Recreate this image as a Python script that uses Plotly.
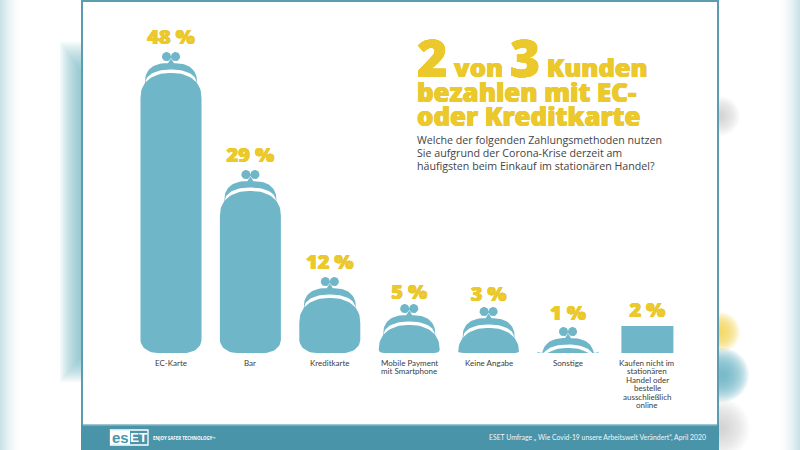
import numpy as np
import plotly.graph_objects as go

categories = ["EC-Karte", "Bar", "Kreditkarte", "Mobile Payment<br>mit Smartphone", "Keine Angabe", "Sonstige",
              "Kaufen nicht im<br>stationären<br>Handel oder<br>bestelle<br>ausschließlich<br>online"]
percent_values = [48, 29, 12, 5, 3, 1, 2]
# Pictorial purse heights (the graphic is not strictly proportional at the low end)
shape_heights = [301, 183, 76, 49, 46, 26, 27]
label_offsets = [13, 13, 13, 10, 11, 12, 14]
shape_kinds = ["purse", "purse", "purse", "purse", "purse", "purse", "box"]

title_big_1 = "2"
title_word_1 = " von "
title_big_2 = "3"
title_word_2 = " Kunden"
title_lines = ["bezahlen mit EC-", "oder Kreditkarte"]
question_lines = ["Welche der folgenden Zahlungsmethoden nutzen",
                  "Sie aufgrund der Corona-Krise derzeit am",
                  "häufigsten beim Einkauf im stationären Handel?"]
source_text = "ESET Umfrage „ Wie Covid-19 unsere Arbeitswelt Verändert“, April 2020"
tagline_text = "ENJOY SAFER TECHNOLOGY™"

BLUE = "#6fb6c9"
YELLOW = "#ebc92c"
TEAL = "#4a94a9"
BORDER = "#5b9cb0"
TEXT = "#3c3c3c"
BASE_PX = 353.0
STEP_PX = 79.4
CX0_PX = 171.0
SANS = "Open Sans"
NARROW = "Lato"
HEAVY = "Open Sans"
THICK = "0.5px 0 0 #ebc92c, -0.5px 0 0 #ebc92c, 0 0.4px 0 #ebc92c, 0 -0.4px 0 #ebc92c"


def px(x):
    return x / 800.0


def py(y):
    return (BASE_PX - y) / BASE_PX


def dome(half, y0, rise, p=2.6, n=40, reverse=False):
    t = np.linspace(np.pi, 0, n)
    c, s = np.cos(t), np.sin(t)
    xs = half * np.sign(c) * np.abs(c) ** (2 / p)
    ys = y0 + rise * np.abs(s) ** (2 / p)
    return (xs[::-1], ys[::-1]) if reverse else (xs, ys)


def purse_paths(cx, h):
    """Closed outlines in axis units for one purse of height h centred on category cx."""
    unit = 1.0 / STEP_PX
    paths = []
    # knobs
    for dx in (-4.5, 4.5):
        t = np.linspace(0, 2 * np.pi, 30)
        paths.append((dx + 4.6 * np.cos(t), h - 4.6 + 4.6 * np.sin(t)))
    # stem between knobs and frame
    paths.append((np.array([-3.5, 0, 3.5, -3.5]), np.array([h - 12, h - 6.5, h - 12, h - 12])))
    # frame: outer dome and inner dome meeting at the tips
    ox, oy = dome(26, h - 31, 20)
    ix, iy = dome(25.5, h - 31, 13.5, p=2.2, reverse=True)
    paths.append((np.r_[ox, ix, ox[0]], np.maximum(np.r_[oy, iy, oy[0]], 0)))
    # body: dome over straight sides and rounded bottom corners
    shoulder = h - 46
    bx, by = dome(30.5, shoulder, 25, p=2.3)
    ry = float(np.clip(shoulder, 1.5, 13))
    rx = 17 if shoulder > 8 else 5
    t = np.linspace(0, np.pi / 2, 14)
    right_x = 30.5 - rx + rx * np.cos(t)
    right_y = ry - ry * np.sin(t)
    left_x = -right_x[::-1]
    left_y = right_y[::-1]
    xs = np.r_[bx, right_x, left_x, bx[0]]
    ys = np.r_[by, right_y, left_y, by[0]]
    paths.append((xs, np.maximum(ys, 0)))
    return [(cx + a * unit, b) for a, b in paths]


fig = go.Figure()
x_positions = list(range(len(categories)))

for i, (h, kind, name) in enumerate(zip(shape_heights, shape_kinds, categories)):
    if kind == "box":
        half = 26.0 / STEP_PX
        outlines = [(np.array([i - half, i + half, i + half, i - half, i - half]), np.array([0, 0, h, h, 0]))]
    else:
        outlines = purse_paths(i, h)
    xs, ys = [], []
    for a, b in outlines:
        xs += list(a) + [None]
        ys += list(b) + [None]
    fig.add_trace(go.Scatter(x=xs, y=ys, mode="lines", fill="toself", fillcolor=BLUE,
                             line=dict(width=0, color=BLUE), hoverinfo="skip",
                             name=name.replace("<br>", " "), showlegend=False))

fig.add_trace(go.Scatter(
    x=x_positions,
    y=[h + o for h, o in zip(shape_heights, label_offsets)],
    mode="text",
    text=[f"{v} %" for v in percent_values],
    textposition="middle center",
    textfont=dict(family=HEAVY, size=20, color=YELLOW, weight=800, shadow=THICK),
    hoverinfo="skip", showlegend=False, cliponaxis=False,
))

shapes = []


def rect(x0, y0, x1, y1, color, opacity=1.0):
    shapes.append(dict(type="rect", xref="paper", yref="paper", x0=px(x0), x1=px(x1), y0=py(y0), y1=py(y1),
                       fillcolor=color, opacity=opacity, line=dict(width=0), layer="below"))


def blob(cx, cy, r, color, steps=20, op=0.07):
    for k in range(steps):
        rr = r * (1 - k / steps)
        shapes.append(dict(type="circle", xref="paper", yref="paper", x0=px(cx - rr), x1=px(cx + rr),
                           y0=py(cy - rr), y1=py(cy + rr), fillcolor=color, opacity=op,
                           line=dict(width=0), layer="below"))


# blurred video-style side bands
for k in range(20):
    a = (1 - k / 20) ** 1.6 * 0.42
    rect(k, 0, k + 1, 450, "#7fb6c6", a)
    rect(799 - k, 0, 800 - k, 450, "#7fb6c6", a)
# soft glow to the left of the card
for k in range(14):
    inset = k * 1.6
    rect(60 + inset, 42 + inset * 1.4, 82, 382 - inset * 1.2, "#6fb6c9", 0.085)
blob(720, 332, 20, "#f1d75a", op=0.1)
blob(722, 375, 27, "#6fb6c9", op=0.11)
blob(720, 116, 20, "#bdbdbd", op=0.05)
blob(720, 428, 30, "#bdbdbd", op=0.05)

# card and footer
rect(81, 0, 719, 450, BORDER)
rect(83, 2, 717, 425, "#ffffff")
rect(81, 425, 719, 450, TEAL)
rect(83, 424, 717, 425.5, "#9cc6d2")

# logo
shapes.append(dict(type="rect", xref="paper", yref="paper", x0=px(110.5), x1=px(148), y0=py(430), y1=py(445),
                   line=dict(color="white", width=1.3), fillcolor="rgba(0,0,0,0)", layer="below"))
rect(111, 430.5, 130, 444.5, "#ffffff")

annotations = []


def note(text, x, y, size, color=TEXT, family=SANS, weight=None, anchor="left", yanchor="middle", shadow=None):
    font = dict(family=family, size=size, color=color)
    if weight:
        font["weight"] = weight
    if shadow:
        font["shadow"] = shadow
    annotations.append(dict(text=text, x=px(x), y=py(y), xref="paper", yref="paper", xanchor=anchor,
                            yanchor=yanchor, showarrow=False, font=font, borderpad=0, borderwidth=0,
                            align=anchor))


# title
big = 52
word = 25.5
note(f'<span style="font-size:{big}px">{title_big_1}</span>{title_word_1}'
     f'<span style="font-size:{big}px">{title_big_2}</span>{title_word_2}',
     417, 56, word, YELLOW, HEAVY, 800, shadow=THICK)
note(title_lines[0], 417, 92, 25.8, YELLOW, HEAVY, 800, shadow=THICK)
note(title_lines[1], 417, 116, 25.8, YELLOW, HEAVY, 800, shadow=THICK)
for line, y in zip(question_lines, [139.5, 152.5, 165.5]):
    note(line, 417, y, 10.65, "#444444")

# category labels, one annotation per line for the tight leading of the original
for i, name in enumerate(categories):
    for j, part in enumerate(name.split("<br>")):
        annotations.append(dict(text=part, x=i, y=py(362.5 + 8.55 * j), xref="x", yref="paper", xanchor="center",
                                yanchor="middle", showarrow=False,
                                font=dict(family=NARROW, size=8, color=TEXT)))

# footer
note(source_text, 706, 437, 6.85, "#f1f7f9", NARROW, anchor="right")
note(tagline_text, 153, 437.5, 4.4, "#ffffff", weight=700)
note("es", 120.5, 437, 15, TEAL, "Liberation Sans", 700, anchor="center")
note("ET", 139, 437, 13.5, "#ffffff", "Liberation Sans", 700, anchor="center")

fig.update_layout(
    width=800, height=450,
    margin=dict(l=0, r=0, t=0, b=97, pad=0, autoexpand=False),
    autosize=False,
    paper_bgcolor="white", plot_bgcolor="rgba(0,0,0,0)",
    showlegend=False,
    shapes=shapes, annotations=annotations,
    xaxis=dict(range=[-CX0_PX / STEP_PX, (800 - CX0_PX) / STEP_PX], visible=False, fixedrange=True),
    yaxis=dict(range=[0, BASE_PX], visible=False, fixedrange=True),
)
fig.write_html("out.html", config=dict(displayModeBar=False),
               post_script="document.body.style.margin='0';document.documentElement.style.overflow='hidden';")
